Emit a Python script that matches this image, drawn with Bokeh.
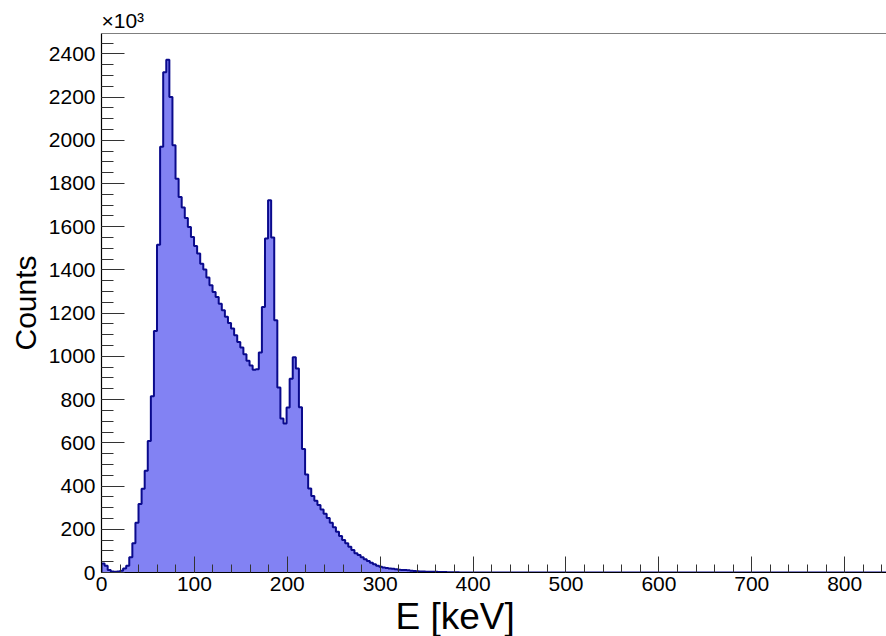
import numpy as np
from bokeh.plotting import figure
from bokeh.models import Span, SingleIntervalTicker, Range1d, Title
from bokeh.embed import file_html
from bokeh.resources import INLINE

# ---------------- data ----------------
X_LO = 0.0
X_HI = 850.0
N_BINS = 256
BIN_WIDTH = (X_HI - X_LO) / N_BINS  # keV

# counts per bin, in units of 10^3
COUNTS = [
    42, 31, 12, 5, 4, 5, 8, 19, 31, 70,
    135, 230, 317, 388, 471, 609, 815, 1118, 1516, 1970,
    2315, 2372, 2200, 1977, 1822, 1737, 1689, 1640, 1599, 1552,
    1511, 1476, 1429, 1402, 1365, 1329, 1298, 1275, 1244, 1213,
    1183, 1155, 1129, 1098, 1067, 1041, 1010, 980, 958, 938,
    940, 1018, 1229, 1545, 1722, 1550, 1167, 856, 713, 690,
    763, 896, 996, 944, 765, 572, 453, 389, 354, 332,
    312, 292, 272, 252, 230, 209, 189, 169, 150, 135,
    119, 104, 89, 81, 70, 61, 53, 45, 38, 31,
    27, 23, 21, 19, 17, 15, 13, 12, 11, 10,
    8, 7, 6, 5, 5, 4, 4, 3, 3, 2,
    2, 2, 1, 1, 1, 1, 0.5, 0.5, 0.5, 0,
    0, 0, 0, 0, 0, 0, 0, 0, 0, 0, 0, 0, 0, 0, 0, 0, 0, 0, 0, 0,
    0, 0, 0, 0, 0, 0, 0, 0, 0, 0, 0, 0, 0, 0, 0, 0, 0, 0, 0, 0,
    0, 0, 0, 0, 0, 0, 0, 0, 0, 0, 0, 0, 0, 0, 0, 0, 0, 0, 0, 0,
    0, 0, 0, 0, 0, 0, 0, 0, 0, 0, 0, 0, 0, 0, 0, 0, 0, 0, 0, 0,
    0, 0, 0, 0, 0, 0, 0, 0, 0, 0, 0, 0, 0, 0, 0, 0, 0, 0, 0, 0,
    0, 0, 0, 0, 0, 0, 0, 0, 0, 0, 0, 0, 0, 0, 0, 0, 0, 0, 0, 0,
    0, 0, 0, 0, 0, 0, 0, 0, 0, 0, 0, 0, 0, 0, 0, 0,
]

X_TITLE = "E [keV]"
Y_TITLE = "Counts"
EXP_TEXT = "×10³"

X_VIEW = (0, 845)
Y_VIEW = (0, 2494)

# ---------------- drawing ----------------
FONT = "Liberation Sans"
counts = np.asarray(COUNTS, dtype=float)
edges = X_LO + BIN_WIDTH * np.arange(len(counts) + 1)

# step outline
sx = np.repeat(edges, 2)[1:-1]
sy = np.repeat(counts, 2)
px = np.concatenate([[edges[0]], sx, [edges[-1]]])
py = np.concatenate([[0.0], sy, [0.0]])

p = figure(width=886, height=636, output_backend="svg", toolbar_location=None,
           x_range=Range1d(*X_VIEW), y_range=Range1d(*Y_VIEW),
           min_border_left=101, min_border_right=0, min_border_top=33,
           min_border_bottom=63)
p.outline_line_color = None
p.grid.visible = False
p.background_fill_color = "white"
p.border_fill_color = "white"

p.patch(px, py, fill_color="#8282f3", line_color=None)
p.line(px, py, line_color="#0a0a8c", line_width=2)

p.add_layout(Span(location=Y_VIEW[1], dimension="width", line_color="black", line_width=1.2))

xa = p.xaxis[0]
xa.ticker = SingleIntervalTicker(interval=100, num_minor_ticks=5)
xa.major_tick_in = 16
xa.major_tick_out = 0
xa.minor_tick_in = 8
xa.minor_tick_out = 0
xa.axis_line_color = "black"
xa.axis_line_width = 1.2
xa.major_tick_line_color = "#333333"
xa.minor_tick_line_color = "#333333"
xa.major_label_text_font = FONT
xa.major_label_text_font_size = "21px"
xa.major_label_text_color = "black"
xa.major_label_standoff = 4

ya = p.yaxis[0]
ya.ticker = SingleIntervalTicker(interval=200, num_minor_ticks=4)
ya.major_tick_in = 23
ya.major_tick_out = 0
ya.minor_tick_in = 12
ya.minor_tick_out = 0
ya.axis_line_color = "black"
ya.axis_line_width = 1.2
ya.major_tick_line_color = "#333333"
ya.minor_tick_line_color = "#333333"
ya.major_label_text_font = FONT
ya.major_label_text_font_size = "21px"
ya.major_label_text_color = "black"
ya.major_label_standoff = 6
ya.axis_label = Y_TITLE
ya.axis_label_text_font = FONT
ya.axis_label_text_font_size = "30px"
ya.axis_label_text_font_style = "normal"
ya.axis_label_text_color = "black"
ya.axis_label_standoff = 4

p.add_layout(Title(text=X_TITLE, align="left", offset=294, standoff=0,
                   vertical_align="bottom",
                   text_font=FONT, text_font_size="37px", text_font_style="normal",
                   text_color="black", text_line_height=0.6), "below")
p.add_layout(Title(text=EXP_TEXT, align="left", offset=0, standoff=0,
                   vertical_align="top",
                   text_font=FONT, text_font_size="21px", text_font_style="normal",
                   text_color="black", text_line_height=0.6), "above")

open("out.html", "w").write(file_html(p, INLINE))
